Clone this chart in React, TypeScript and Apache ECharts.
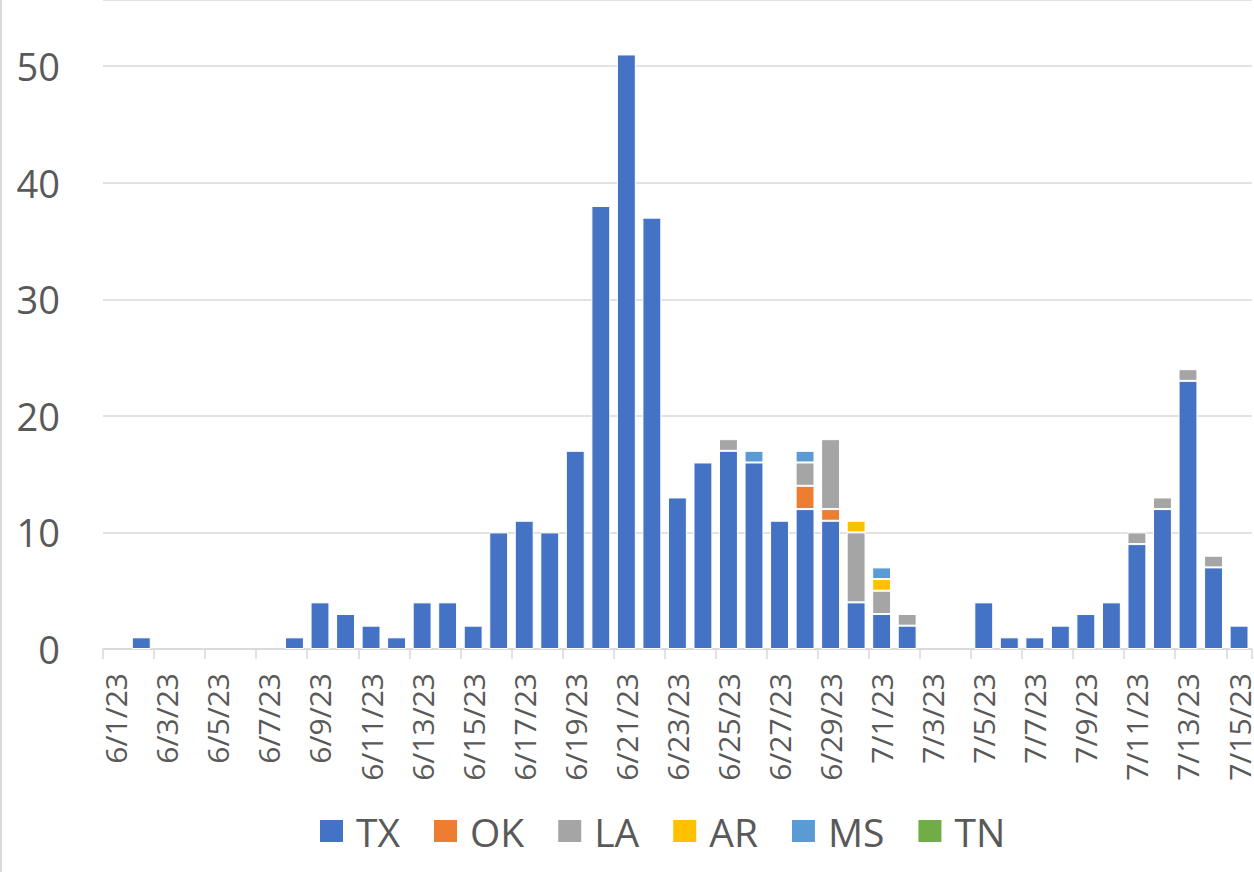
import React, { useEffect, useRef } from "react";
import * as echarts from "echarts";

const dates = [
  "6/1/23", "6/2/23", "6/3/23", "6/4/23", "6/5/23", "6/6/23", "6/7/23", "6/8/23", "6/9/23", "6/10/23",
  "6/11/23", "6/12/23", "6/13/23", "6/14/23", "6/15/23", "6/16/23", "6/17/23", "6/18/23", "6/19/23", "6/20/23",
  "6/21/23", "6/22/23", "6/23/23", "6/24/23", "6/25/23", "6/26/23", "6/27/23", "6/28/23", "6/29/23", "6/30/23",
  "7/1/23", "7/2/23", "7/3/23", "7/4/23", "7/5/23", "7/6/23", "7/7/23", "7/8/23", "7/9/23", "7/10/23",
  "7/11/23", "7/12/23", "7/13/23", "7/14/23", "7/15/23",
];

const TX = [0, 1, 0, 0, 0, 0, 0, 1, 4, 3, 2, 1, 4, 4, 2, 10, 11, 10, 17, 38, 51, 37, 13, 16, 17, 16, 11, 12, 11, 4, 3, 2, 0, 0, 4, 1, 1, 2, 3, 4, 9, 12, 23, 7, 2];
const OK = [0, 0, 0, 0, 0, 0, 0, 0, 0, 0, 0, 0, 0, 0, 0, 0, 0, 0, 0, 0, 0, 0, 0, 0, 0, 0, 0, 2, 1, 0, 0, 0, 0, 0, 0, 0, 0, 0, 0, 0, 0, 0, 0, 0, 0];
const LA = [0, 0, 0, 0, 0, 0, 0, 0, 0, 0, 0, 0, 0, 0, 0, 0, 0, 0, 0, 0, 0, 0, 0, 0, 1, 0, 0, 2, 6, 6, 2, 1, 0, 0, 0, 0, 0, 0, 0, 0, 1, 1, 1, 1, 0];
const AR = [0, 0, 0, 0, 0, 0, 0, 0, 0, 0, 0, 0, 0, 0, 0, 0, 0, 0, 0, 0, 0, 0, 0, 0, 0, 0, 0, 0, 0, 1, 1, 0, 0, 0, 0, 0, 0, 0, 0, 0, 0, 0, 0, 0, 0];
const MS = [0, 0, 0, 0, 0, 0, 0, 0, 0, 0, 0, 0, 0, 0, 0, 0, 0, 0, 0, 0, 0, 0, 0, 0, 0, 1, 0, 1, 0, 0, 1, 0, 0, 0, 0, 0, 0, 0, 0, 0, 0, 0, 0, 0, 0];
const TN = [0, 0, 0, 0, 0, 0, 0, 0, 0, 0, 0, 0, 0, 0, 0, 0, 0, 0, 0, 0, 0, 0, 0, 0, 0, 0, 0, 0, 0, 0, 0, 0, 0, 0, 0, 0, 0, 0, 0, 0, 0, 0, 0, 0, 0];

const seriesNames = ["TX", "OK", "LA", "AR", "MS", "TN"];
const seriesData = [TX, OK, LA, AR, MS, TN];
const seriesColors = ["#4472C4", "#ED7D31", "#A5A5A5", "#FFC000", "#5B9BD5", "#70AD47"];

const FONT = "'Open Sans', 'Noto Sans', sans-serif";

export default function App() {
  const ref = useRef<HTMLDivElement>(null);

  useEffect(() => {
    if (!ref.current) return;
    const chart = echarts.init(ref.current, undefined, { renderer: "svg" });
    chart.setOption({
      animation: false,
      backgroundColor: "#ffffff",
      textStyle: { fontFamily: FONT },
      grid: { left: 103, right: -3, top: -2, bottom: 223, containLabel: false },
      legend: {
        left: 318,
        top: 811,
        padding: 0,
        itemWidth: 25,
        itemHeight: 24,
        itemGap: 32,
        icon: "rect",
        data: seriesNames,
        textStyle: {
          fontFamily: FONT,
          fontSize: 39,
          lineHeight: 40,
          color: "#595959",
          padding: [0, 0, 0, 7],
        },
      },
      xAxis: {
        type: "category",
        data: dates,
        axisLine: { show: true, lineStyle: { color: "#d9d9d9", width: 1.5 } },
        axisTick: { show: true, length: 10, interval: 1, lineStyle: { color: "#d9d9d9", width: 1.5 } },
        axisLabel: {
          interval: 1,
          rotate: 90,
          fontSize: 30,
          color: "#595959",
          fontFamily: FONT,
          margin: 24,
        },
        splitLine: { show: false },
      },
      yAxis: {
        type: "value",
        min: 0,
        max: 55.67,
        interval: 10,
        axisLine: { show: false },
        axisTick: { show: false },
        axisLabel: {
          fontSize: 38,
          color: "#595959",
          fontFamily: FONT,
          margin: 43,
          showMaxLabel: false,
        },
        splitLine: { show: true, lineStyle: { color: "#d9d9d9", width: 1.5 } },
      },
      series: seriesNames.map((name, i) => ({
        name,
        type: "bar",
        stack: "total",
        barCategoryGap: "26%",
        itemStyle: { color: seriesColors[i], borderColor: "#ffffff", borderWidth: 1 },
        data: seriesData[i].map((v) => (v === 0 ? "-" : v)),
      })),
      graphic: [
        {
          type: "line",
          shape: { x1: 1, y1: 0, x2: 1, y2: 872 },
          style: { stroke: "#d9d9d9", lineWidth: 2 },
        },
      ],
    });
    return () => chart.dispose();
  }, []);

  return (
    <div
      ref={ref}
      style={{ position: "fixed", left: 0, top: 0, width: 1254, height: 872, background: "#fff" }}
    />
  );
}
